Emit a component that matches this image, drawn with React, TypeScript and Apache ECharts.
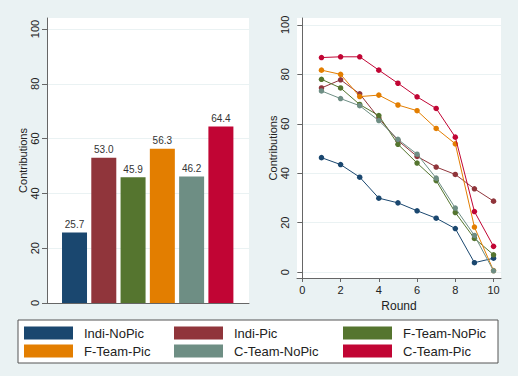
import React, { useEffect, useRef } from "react";
import * as echarts from "echarts";

const groups = ["Indi-NoPic", "Indi-Pic", "F-Team-NoPic", "F-Team-Pic", "C-Team-NoPic", "C-Team-Pic"];
const colors = ["#1A476F", "#90353B", "#55752F", "#E37E00", "#6E8E84", "#C10534"];
const averages = [25.7, 53.0, 45.9, 56.3, 46.2, 64.4];
const rounds = [1, 2, 3, 4, 5, 6, 7, 8, 9, 10];
const indiNoPic = [46.3, 43.5, 38.4, 29.9, 28.0, 24.8, 21.8, 17.6, 3.8, 5.6];
const indiPic = [74.5, 77.8, 72.1, 62.3, 53.2, 46.8, 42.5, 39.5, 33.7, 28.7];
const fTeamNoPic = [78.0, 74.5, 67.8, 63.3, 51.7, 44.1, 37.0, 24.1, 13.6, 7.0];
const fTeamPic = [81.7, 80.0, 71.0, 71.6, 67.6, 65.3, 58.1, 51.9, 18.2, 0.6];
const cTeamNoPic = [73.3, 70.2, 67.3, 61.3, 53.7, 47.7, 38.0, 25.9, 14.8, 0.5];
const cTeamPic = [86.8, 87.1, 87.1, 81.7, 76.4, 70.9, 66.2, 54.6, 24.5, 10.4];
const roundSeries = [indiNoPic, indiPic, fTeamNoPic, fTeamPic, cTeamNoPic, cTeamPic];
const yTicks = [0, 20, 40, 60, 80, 100];
const xTicks = [0, 2, 4, 6, 8, 10];

const BG = "#EAF2F3";
const AXIS = "#666666";
const TEXT = "#222222";

export default function App() {
  const ref = useRef<HTMLDivElement>(null);
  useEffect(() => {
    document.body.style.margin = "0";
    if (!ref.current) return;
    const chart = echarts.init(ref.current, null, { renderer: "svg" });
    const yAxisCommon = (min: number, max: number, gridIndex: number) => ({
      type: "value",
      gridIndex,
      min,
      max,
      name: "Contributions",
      nameLocation: "middle",
      nameGap: 18,
      nameTextStyle: { fontSize: 11, color: TEXT },
      axisLine: { show: true, lineStyle: { color: AXIS, width: 1 } },
      axisTick: { show: true, length: 5, customValues: yTicks, lineStyle: { color: AXIS } },
      axisLabel: { customValues: yTicks, rotate: 90, margin: 7, fontSize: 11, color: TEXT },
      splitLine: { show: true, lineStyle: { color: BG, width: 1 } },
    });
    const option: any = {
      animation: false,
      backgroundColor: BG,
      textStyle: { fontFamily: "Liberation Sans, Arial, sans-serif" },
      graphic: [
        {
          type: "rect",
          shape: { x: 18, y: 320, width: 480, height: 43 },
          style: { fill: "#ffffff", stroke: "#555555", lineWidth: 1 },
          z: 0,
        },
      ],
      grid: [
        { left: 47, top: 18, width: 202, height: 285, show: true, backgroundColor: "#ffffff", borderWidth: 0 },
        { left: 297, top: 18, width: 204, height: 260, show: true, backgroundColor: "#ffffff", borderWidth: 0 },
      ],
      xAxis: [
        {
          type: "value",
          gridIndex: 0,
          min: 0.06,
          max: 6.96,
          axisLine: { show: true, onZero: false, lineStyle: { color: AXIS, width: 1 } },
          axisTick: { show: false },
          axisLabel: { show: false },
          splitLine: { show: false },
        },
        {
          type: "value",
          gridIndex: 1,
          min: -0.28,
          max: 10.39,
          name: "Round",
          nameLocation: "middle",
          nameGap: 14,
          nameTextStyle: { fontSize: 12, color: TEXT },
          axisLine: { show: true, onZero: false, lineStyle: { color: AXIS, width: 1 } },
          axisTick: { show: true, length: 4, customValues: xTicks, lineStyle: { color: AXIS } },
          axisLabel: { customValues: xTicks, margin: 6, fontSize: 11, color: TEXT },
          splitLine: { show: false },
        },
      ],
      yAxis: [yAxisCommon(0, 104, 0), yAxisCommon(-2.4, 102.8, 1)],
      legend: [0, 1, 2].map((c, i) => ({
        orient: "vertical",
        left: [24, 174, 343][i],
        top: 326.5,
        padding: 0,
        itemWidth: 49,
        itemHeight: 13,
        itemGap: 5,
        icon: "rect",
        selectedMode: false,
        data: [groups[c], groups[c + 3]],
        textStyle: { fontSize: 13, color: TEXT, padding: [0, 0, 0, 6] },
      })),
      series: [
        {
          type: "bar",
          name: "Average",
          xAxisIndex: 0,
          yAxisIndex: 0,
          barWidth: 25,
          data: averages.map((v, i) => ({
            value: [i + 1, v],
            itemStyle: { color: colors[i] },
          })),
          label: {
            show: true,
            position: "top",
            distance: 3,
            fontSize: 10,
            color: "#333333",
            formatter: (p: any) => Number(p.value[1]).toFixed(1),
          },
        },
        ...roundSeries.map((vals, i) => ({
          type: "line",
          name: groups[i],
          xAxisIndex: 1,
          yAxisIndex: 1,
          data: vals.map((v, j) => [rounds[j], v]),
          symbol: "circle",
          symbolSize: 5.5,
          color: colors[i],
          itemStyle: { color: colors[i] },
          lineStyle: { color: colors[i], width: 1 },
          z: 2 + i,
        })),
      ],
    };
    chart.setOption(option);
    return () => chart.dispose();
  }, []);
  return <div ref={ref} style={{ width: 518, height: 376 }} />;
}
